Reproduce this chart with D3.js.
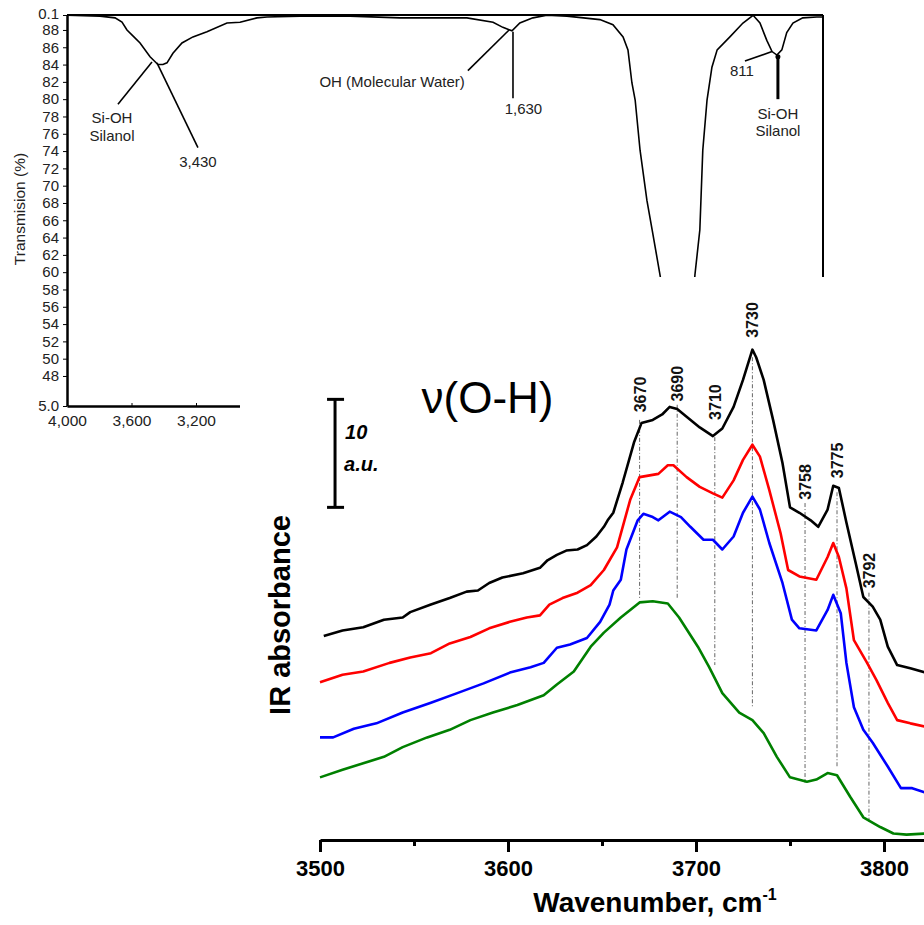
<!DOCTYPE html>
<html><head><meta charset="utf-8">
<script src="https://cdn.jsdelivr.net/npm/d3@7"></script>
<style>html,body{margin:0;padding:0;background:#fff;} svg{display:block;font-family:"Liberation Sans",Arial,sans-serif;}</style>
</head><body><svg id="c" width="924" height="925"></svg>
<script>
// ---------- FTIR transmission spectrum (top) ----------
const ftirWavenumber = [4000,3795,3702,3659,3628,3585,3547,3485,3436,3405,3380,3343,3287,3219,3132,3008,2927,2822,2760,2555,2245,1968,1867,1763,1683,1653,1625,1601,1561,1518,1457,1356,1316,1285,1270,1258,1248,1233,1212,1196,1172,1142,1117,1090,1065,1050,1041,1028,1013,997,958,918,887,866,845,829,814,799,784,765,735,692,673];
const ftirTransmission = [89.7,89.6,89.4,88.9,88.0,87.2,86.5,84.9,84.0,84.0,84.2,85.3,86.5,87.2,87.8,88.8,88.9,89.4,89.5,89.6,89.6,89.4,89.4,89.4,88.9,88.3,87.9,88.8,89.4,89.7,89.6,89.2,88.6,87.2,85.7,81.9,79.9,74.1,68.3,64.9,59.7,53,45,48,59.7,64.9,74.1,79.9,83.7,85.7,87.2,88.8,89.7,88.8,86.8,85.5,85.1,85.7,87.7,88.8,89.4,89.5,89.5];
const transTickValues = [89.73,88,86,84,82,80,78,76,74,72,70,68,66,64,62,60,58,56,54,52,50,48,44.53];
const transTickLabels = ["0.1","88","86","84","82","80","78","76","74","72","70","68","66","64","62","60","58","56","54","52","50","48","5.0"];
const ftirXTicks = [4000,3600,3200];
const ftirXTickLabels = ["4,000","3,600","3,200"];

// ---------- IR absorbance spectra (bottom) ----------
const blackWn = [3502,3512,3523,3534,3544,3548,3559,3569,3578,3584,3590,3597,3608,3617,3621,3626,3631,3637,3642,3647,3651,3653,3656,3661,3667,3671,3677,3682,3686,3690,3695,3702,3709,3714,3720,3725,3730,3732,3736,3741,3746,3750,3755,3761,3765,3770,3773,3776,3780,3785,3789,3794,3798,3802,3807,3814,3822];
const blackAbs = [18.9,19.4,19.7,20.4,20.6,21.1,21.8,22.4,23.0,23.1,23.8,24.3,24.7,25.2,25.9,26.4,26.8,26.9,27.3,28.1,29.0,29.6,30.3,33.1,36.8,38.6,38.9,39.4,40.1,39.9,39.2,38.2,37.4,38.1,40.1,42.6,45.4,44.7,42.6,38.9,34.9,30.8,30.3,29.6,29.0,30.6,32.8,32.6,29.4,25.6,22.5,21.6,20.4,17.9,16.2,15.9,15.5];
const redWn = [3500,3512,3523,3537,3548,3559,3569,3580,3590,3601,3610,3617,3622,3629,3637,3644,3651,3658,3665,3670,3680,3685,3688,3695,3702,3709,3714,3720,3725,3730,3734,3739,3745,3749,3755,3764,3770,3773,3776,3780,3784,3791,3796,3802,3807,3814,3822];
const redAbs = [14.6,15.3,15.6,16.4,16.9,17.3,18.2,18.8,19.6,20.2,20.6,20.8,21.8,22.4,22.9,23.6,25.0,27.1,31.5,33.6,33.9,34.7,34.7,33.6,32.7,32.1,31.7,33.3,35.2,36.6,35.5,32.4,28.4,25.0,24.4,24.1,26.2,27.5,26.2,23.3,18.5,16.4,14.8,12.7,11.1,10.8,10.5];
const blueWn = [3500,3507,3518,3530,3544,3559,3573,3587,3601,3612,3619,3626,3633,3642,3649,3654,3656,3660,3663,3669,3672,3677,3680,3686,3692,3697,3704,3709,3714,3720,3725,3730,3734,3739,3746,3751,3755,3764,3770,3773,3777,3780,3784,3789,3794,3802,3809,3815,3822];
const blueAbs = [9.5,9.5,10.3,10.8,11.8,12.7,13.6,14.5,15.5,16.0,16.4,17.8,18.1,18.7,20.2,21.8,23.1,24.1,26.9,29.6,30.2,29.9,29.6,30.4,29.9,29.0,27.8,27.8,26.9,28.1,30.3,31.8,30.6,27.5,23.8,20.4,19.6,19.4,21.3,22.7,21.0,16.4,12.3,10.2,9.0,6.8,4.8,4.8,4.4];
const greenWn = [3500,3512,3523,3534,3544,3557,3569,3580,3592,3605,3619,3626,3635,3644,3651,3660,3665,3670,3677,3685,3691,3701,3707,3714,3723,3730,3736,3743,3750,3759,3764,3770,3775,3782,3789,3798,3805,3812,3822];
const greenAbs = [5.8,6.5,7.1,7.7,8.6,9.5,10.2,11.1,11.8,12.5,13.4,14.4,15.6,17.9,19.2,20.6,21.3,22.0,22.1,21.9,20.6,17.9,16.0,13.6,11.8,11.1,9.9,7.7,5.8,5.4,5.6,6.2,6.0,4.0,2.1,1.2,0.6,0.5,0.6];
const seriesColors = ["#000000","#ff0000","#0000ff","#008000"];

const peakWavenumbers = [3670,3690,3710,3730,3758,3775,3792];
const peakLabels = ["3670","3690","3710","3730","3758","3775","3792"];
const peakLineTop = [38.9,40.3,37.3,44.7,31.2,32.2,22.9];
const peakLineBottom = [22.4,22.4,16.2,12.2,5.3,6.8,1.6];
const peakLabelBase = [39.6,40.6,38.9,46.5,31.5,33.5,23.3];
const irXTicks = [3500,3600,3700,3800];
const irMinorTicks = [3550,3650,3750];

const svg = d3.select("#c");

// ================= TOP CHART =================
const topX = d3.scaleLinear().domain([4000, 2000, 673]).range([67, 389.5, 823]);
const topY = d3.scaleLinear().domain([89.73, 44.53]).range([15, 406]);
const gTop = svg.append("g");

gTop.append("path")
  .datum(ftirWavenumber.map((w,i)=>[w, ftirTransmission[i]]))
  .attr("fill","none").attr("stroke","#000").attr("stroke-width",1.6)
  .attr("d", d3.line().x(d=>topX(d[0])).y(d=>topY(d[1])));

gTop.append("line").attr("x1",67).attr("x2",823).attr("y1",15).attr("y2",15).attr("stroke","#000").attr("stroke-width",2);
gTop.append("line").attr("x1",823).attr("x2",823).attr("y1",15).attr("y2",300).attr("stroke","#000").attr("stroke-width",2);

const yAx = gTop.append("g").attr("transform","translate(67,0)")
  .call(d3.axisLeft(topY).tickValues(transTickValues).tickFormat((d,i)=>transTickLabels[i]).tickSize(4).tickSizeOuter(0).tickPadding(4));
yAx.select(".domain").attr("stroke-width",2.5);
yAx.selectAll("text").attr("font-size",15).attr("fill","#222").attr("font-family","Liberation Sans, Arial, sans-serif");
yAx.selectAll(".tick text").filter((d,i)=>i===0).attr("dy","0.22em");

const xAx = gTop.append("g").attr("transform","translate(0,406)")
  .call(d3.axisBottom(topX).tickValues(ftirXTicks).tickFormat((d,i)=>ftirXTickLabels[i]).tickSize(-3).tickSizeOuter(0).tickPadding(9));
xAx.select(".domain").attr("stroke-width",2.5);
xAx.selectAll("text").attr("font-size",15.5).attr("fill","#222").attr("font-family","Liberation Sans, Arial, sans-serif");

gTop.append("text").attr("transform","translate(25,209) rotate(-90)").attr("text-anchor","middle")
  .attr("font-size",15.5).attr("fill","#222").text("Transmision (%)");

const topLines = [
  [[3684,79.4],[3473,84.3],1.6],
  [[3188,74.4],[3442,84.2],1.6],
  [[1760,83.3],[1634,88.0],1.6],
  [[1622,87.8],[1622,80.1],1.6],
  [[912,84.4],[829,85.5],1.6],
  [[811,84.9],[811,80.0],3]
];
topLines.forEach(l=>{
  gTop.append("line").attr("x1",topX(l[0][0])).attr("y1",topY(l[0][1]))
    .attr("x2",topX(l[1][0])).attr("y2",topY(l[1][1])).attr("stroke","#000").attr("stroke-width",l[2]);
});
gTop.append("circle").attr("cx",topX(811)).attr("cy",topY(84.9)).attr("r",2.5).attr("fill","#000");
const topNotes = [
  ["Si-OH",3721,77.2],["Silanol",3721,75.2],["3,430",3188,72.2],
  ["OH (Molecular Water)",1992,81.4],["1,630",1590,78.3],["811",921,82.7],
  ["Si-OH",811,77.7],["Silanol",811,75.7]
];
topNotes.forEach(n=>{
  gTop.append("text").attr("x",topX(n[1])).attr("y",topY(n[2])).attr("text-anchor","middle")
    .attr("font-size",15).attr("fill","#222").text(n[0]);
});

// ================= BOTTOM CHART =================
svg.append("rect").attr("x",240).attr("y",277).attr("width",684).attr("height",648).attr("fill","#fff");
const irX = d3.scaleLinear().domain([3500, 3850]).range([320, 978]);
const irY = d3.scaleLinear().domain([0, 50]).range([840, 300]);
const gBot = svg.append("g");

peakWavenumbers.forEach((w,i)=>{
  gBot.append("line").attr("x1",irX(w)).attr("x2",irX(w)).attr("y1",irY(peakLineTop[i])).attr("y2",irY(peakLineBottom[i]))
    .attr("stroke","#666").attr("stroke-width",1).attr("stroke-dasharray","4,2,1,2");
  gBot.append("text").attr("transform",`translate(${irX(w)+6},${irY(peakLabelBase[i])}) rotate(-90)`)
    .attr("font-size",16).attr("font-weight","bold").attr("fill","#111").text(peakLabels[i]);
});

const series = [[blackWn,blackAbs],[redWn,redAbs],[blueWn,blueAbs],[greenWn,greenAbs]];
const irLine = d3.line().x(d=>irX(d[0])).y(d=>irY(d[1]));
series.forEach((s,k)=>{
  gBot.append("path").datum(s[0].map((w,i)=>[w,s[1][i]]))
    .attr("fill","none").attr("stroke",seriesColors[k]).attr("stroke-width",2.6)
    .attr("stroke-linejoin","round").attr("d",irLine);
});

const bx = gBot.append("g").attr("transform","translate(0,840)")
  .call(d3.axisBottom(irX).tickValues(irXTicks).tickSize(12).tickSizeOuter(0).tickPadding(8).tickFormat(d3.format("d")));
bx.select(".domain").attr("stroke-width",3);
bx.selectAll(".tick line").attr("stroke-width",3);
bx.selectAll("text").attr("font-size",22).attr("font-weight","bold").attr("fill","#000").attr("font-family","Liberation Sans, Arial, sans-serif");
gBot.append("g").attr("transform","translate(0,840)")
  .call(d3.axisBottom(irX).tickValues(irMinorTicks).tickSize(6).tickFormat(""))
  .call(g=>{g.select(".domain").remove(); g.selectAll("line").attr("stroke-width",3);});

gBot.append("text").attr("x",655).attr("y",912).attr("text-anchor","middle").attr("font-size",28).attr("font-weight","bold")
  .text("Wavenumber, cm").append("tspan").attr("font-size",16).attr("dy",-12).text("-1");

gBot.append("text").attr("transform","translate(290,615) rotate(-90)").attr("text-anchor","middle")
  .attr("font-size",29).attr("font-weight","bold").text("IR absorbance");

const sbX = irX(3508);
gBot.append("line").attr("x1",sbX).attr("x2",sbX).attr("y1",irY(30.8)).attr("y2",irY(40.8)).attr("stroke","#000").attr("stroke-width",3);
[30.8,40.8].forEach(v=>gBot.append("line").attr("x1",sbX-8).attr("x2",sbX+9).attr("y1",irY(v)).attr("y2",irY(v)).attr("stroke","#000").attr("stroke-width",3));
gBot.append("text").attr("x",sbX+10).attr("y",439).attr("font-size",20).attr("font-weight","bold").attr("font-style","italic").text("10");
gBot.append("text").attr("x",sbX+9).attr("y",471).attr("font-size",20).attr("font-weight","bold").attr("font-style","italic").text("a.u.");

gBot.append("text").attr("x",irX(3554)).attr("y",413).attr("font-size",44).attr("fill","#000").text("ν(O-H)");
</script></body></html>
